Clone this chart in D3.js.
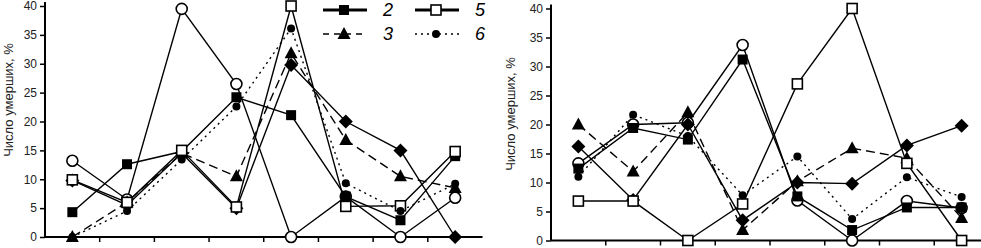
<!DOCTYPE html>
<html>
<head>
<meta charset="utf-8">
<script src="https://cdn.jsdelivr.net/npm/d3@7"></script>
<style>
  body { margin: 0; background: #fff; }
  svg { display: block; font-family: "Liberation Sans", Arial, sans-serif; }
</style>
</head>
<body>
<svg id="svg"></svg>
<script>
const svg = d3.select("#svg")
    .attr("width", 981)
    .attr("height", 248)

// categories (8 groups, labels cut off in the picture)
const groups = ["1", "2", "3", "4", "5", "6", "7", "8"]
const yTicks = [0, 5, 10, 15, 20, 25, 30, 35, 40]

// left panel
const left1 = [13.2, 6.5, 39.5, 26.5, 0, 7, 0, 6.8]
const left2 = [4.3, 12.6, 14.8, 24.2, 21.1, 7, 2.9, 14]
const left3 = [0, 6, 14.5, 10.5, 31.8, 16.8, 10.5, 8.5]
const left4 = [9.8, 5.5, 14.5, 5, 29.8, 20, 15, 0]
const left5 = [9.9, 6, 15, 5.2, 40, 5.3, 5.4, 14.8]
const left6 = [0, 4.5, 13.4, 22.6, 36.1, 9.3, 4.5, 9.2]

// right panel
const right1 = [13.3, 20, 20.3, 33.7, 6.9, 0, 6.8, 5.6]
const right2 = [12.4, 19.4, 17.4, 31.2, 7.6, 1.8, 5.7, 5.7]
const right3 = [20, 11.9, 22.1, 1.8, 10.2, 15.9, 14.2, 3.9]
const right4 = [16.2, 7, 20, 3.5, 10, 9.8, 16.4, 19.8]
const right5 = [6.8, 6.8, 0, 6.3, 27, 40, 13.3, 0]
const right6 = [11, 21.7, 18, 7.8, 14.5, 3.7, 10.9, 7.5]

const legendItems = [
    { name: "2", kind: "fsquare", dash: null, wide: 3 },
    { name: "5", kind: "osquare", dash: null, wide: 3 },
    { name: "3", kind: "triangle", dash: "6,5", wide: 1.5 },
    { name: "6", kind: "fcircle", dash: "2,4", wide: 1.5 },
]

const styles = [
    { kind: "ocircle", dash: null },
    { kind: "fsquare", dash: null },
    { kind: "triangle", dash: "9,5" },
    { kind: "diamond", dash: null },
    { kind: "osquare", dash: null },
    { kind: "fcircle", dash: "2,4" },
]

function marker(g, kind, x, y) {
    if (kind === "ocircle") {
        g.append("circle").attr("cx", x).attr("cy", y).attr("r", 5.5)
            .attr("fill", "#fff").attr("stroke", "#000").attr("stroke-width", 1.6)
    } else if (kind === "fcircle") {
        g.append("circle").attr("cx", x).attr("cy", y).attr("r", 4)
            .attr("fill", "#000")
    } else if (kind === "fsquare") {
        g.append("rect").attr("x", x - 5).attr("y", y - 5).attr("width", 10).attr("height", 10)
            .attr("fill", "#000")
    } else if (kind === "osquare") {
        g.append("rect").attr("x", x - 5).attr("y", y - 5).attr("width", 10).attr("height", 10)
            .attr("fill", "#fff").attr("stroke", "#000").attr("stroke-width", 1.6)
    } else if (kind === "triangle") {
        g.append("path").attr("d", `M${x},${y - 7}L${x + 6.5},${y + 5}L${x - 6.5},${y + 5}Z`)
            .attr("fill", "#000")
    } else if (kind === "diamond") {
        g.append("path").attr("d", `M${x},${y - 7}L${x + 7},${y}L${x},${y + 7}L${x - 7},${y}Z`)
            .attr("fill", "#000")
    }
}

function panel(series, x0, x1, yBottom, yTop, labelX, labelY) {
    const g = svg.append("g")

    const band = d3.scaleBand().domain(groups).range([x0, x1])
    const y = d3.scaleLinear().domain([0, 40]).range([yBottom, yTop])
    const x = d => band(d) + band.bandwidth() / 2

    // y axis
    g.append("g")
        .attr("transform", `translate(${x0},0)`)
        .call(d3.axisLeft(y).tickValues(yTicks).tickSize(5).tickPadding(3))
        .call(a => a.select(".domain").attr("stroke-width", 2).attr("d", `M0,${yTop - 4}V${yBottom}`))
        .call(a => a.selectAll(".tick line").attr("stroke-width", 1.5))
        .call(a => a.selectAll("text").attr("font-size", 12).attr("fill", "#222")
            .attr("font-family", "Liberation Sans, Arial, sans-serif"))

    // x axis with ticks at group boundaries
    const edges = groups.map(d => band(d)).concat([x1])
    g.append("line").attr("x1", x0).attr("x2", x1).attr("y1", yBottom).attr("y2", yBottom)
        .attr("stroke", "#000").attr("stroke-width", 2)
    g.selectAll(".xt").data(edges.slice(1, -1)).join("line")
        .attr("x1", d => d).attr("x2", d => d)
        .attr("y1", yBottom).attr("y2", yBottom + 5)
        .attr("stroke", "#000").attr("stroke-width", 1.5)

    g.append("text")
        .attr("transform", `translate(${labelX},${labelY}) rotate(-90)`)
        .attr("text-anchor", "middle")
        .attr("font-size", 13)
        .attr("fill", "#222")
        .text("Число умерших, %")

    const line = d3.line().x((d, i) => x(groups[i])).y(d => y(d))

    series.forEach((vals, k) => {
        g.append("path").attr("d", line(vals))
            .attr("fill", "none").attr("stroke", "#000").attr("stroke-width", 1.4)
            .attr("stroke-dasharray", styles[k].dash)
    })
    series.forEach((vals, k) => {
        vals.forEach((v, i) => marker(g, styles[k].kind, x(groups[i]), y(v)))
    })
}

panel([left1, left2, left3, left4, left5, left6], 45, 482.5, 237, 6, 13, 100)
panel([right1, right2, right3, right4, right5, right6], 551, 989, 240.5, 8.5, 515, 114)

// legend
const lg = svg.append("g")
const colX = [323, 415]
const rowY = [10, 34]
legendItems.forEach((it, i) => {
    const cx = colX[i % 2], cy = rowY[Math.floor(i / 2)]
    lg.append("line").attr("x1", cx).attr("x2", cx + 44).attr("y1", cy).attr("y2", cy)
        .attr("stroke", "#000").attr("stroke-width", it.wide)
        .attr("stroke-dasharray", it.dash)
    marker(lg, it.kind, cx + 21, cy)
    lg.append("text").attr("x", cx + 60).attr("y", cy + 6)
        .attr("font-size", 18).attr("font-style", "italic")
        .text(it.name)
})
</script>
</body>
</html>
